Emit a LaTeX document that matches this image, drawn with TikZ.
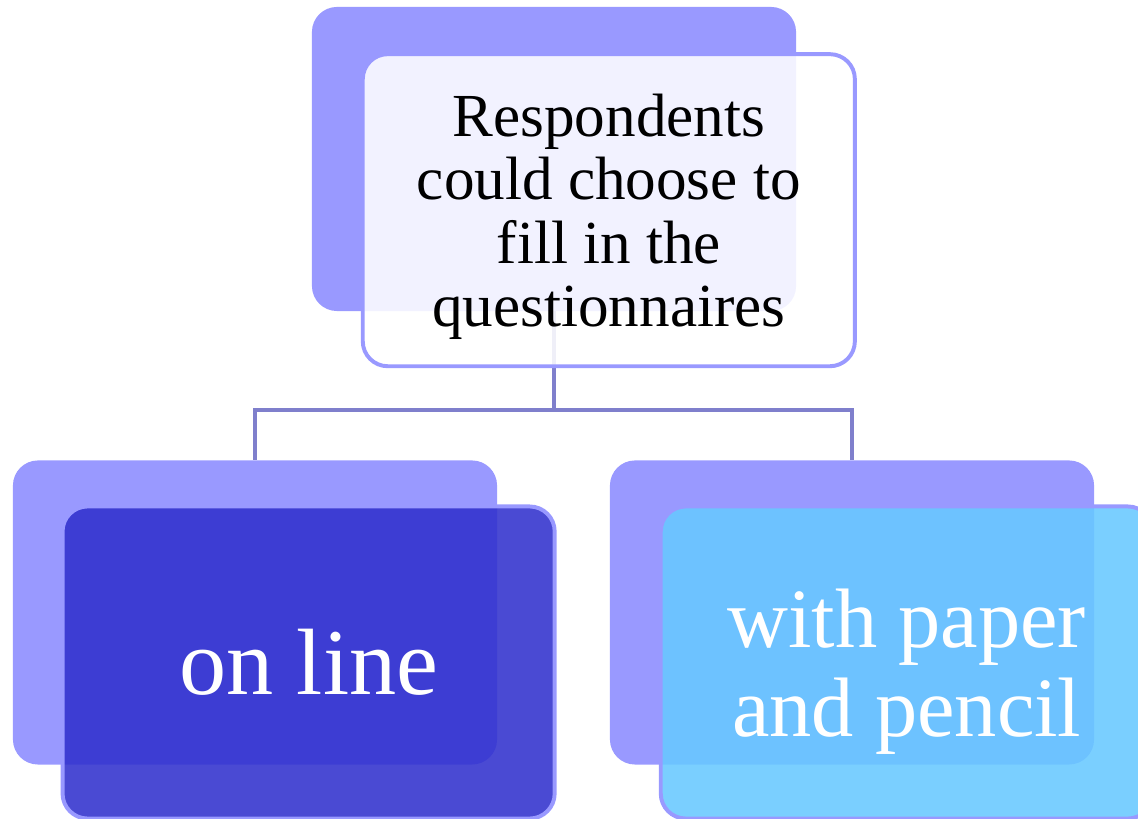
\documentclass[tikz,border=0pt]{standalone}
\usepackage{fontspec}
\setmainfont{Liberation Serif}
\usetikzlibrary{positioning}

\definecolor{backblue}{HTML}{9999FF}
\definecolor{linkblue}{HTML}{7F7FCC}
\definecolor{onlineblue}{HTML}{3131CD}
\definecolor{paperblue}{HTML}{68C8FF}

\tikzset{
  backbox/.style={rectangle,rounded corners=0.625cm,fill=backblue,
    minimum width=12.1cm,minimum height=7.6cm,inner sep=0pt},
  frontbox/.style={rectangle,rounded corners=0.625cm,draw=backblue,
    line width=2.8pt,fill opacity=0.88,text opacity=1,
    minimum width=12.3cm,minimum height=7.8cm,align=center},
  link/.style={draw=linkblue,line width=2.8pt}
}

\begin{document}
\begin{tikzpicture}[x=0.025cm,y=0.025cm,on grid,node distance=1.35cm]
   \useasboundingbox (0,0) rectangle (1138,819);
   % back cards
   \node[backbox] (qback)     at (554,660) {};
   \node[backbox] (onback)    at (255,206.5) {};
   \node[backbox] (paperback) at (852,206.5) {};
   % connectors
   \draw[link] (qback.south) -- ++(0,-99) coordinate (split) -| (onback.north);
   \draw[link] (split) -| (paperback.north);
   % front cards
   \node[frontbox,fill=white,text depth=0pt,font=\fontsize{43.5}{45}\selectfont]
      (q) [below right=1.28cm and 1.37cm of qback]
      {Respondents\\could choose to\\fill in the\\questionnaires};
   \node[frontbox,fill=onlineblue,text=white,font=\fontsize{67}{70}\selectfont]
      (online) [below right=1.25cm and 1.34cm of onback] {on line};
   \node[frontbox,fill=paperblue,text=white,text depth=0pt,font=\fontsize{60}{63.5}\selectfont]
      (paper) [below right=1.25cm and 1.37cm of paperback] {with paper\\and pencil};
\end{tikzpicture}
\end{document}
